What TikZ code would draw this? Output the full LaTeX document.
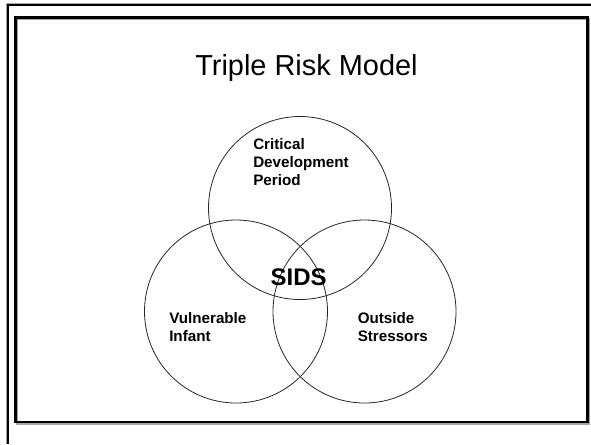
\documentclass[tikz,border=0pt]{standalone}
\usepackage{fontspec}
\newfontfamily\slidefont{Liberation Sans}
\begin{document}
\begin{tikzpicture}[
  x=0.75pt, y=-0.75pt,
  ring/.style={circle, draw=black!85, line width=0.6pt, minimum size=137.25pt, inner sep=0pt},
  lbl/.style={anchor=base west, align=left, inner sep=0pt,
    font=\slidefont\bfseries\fontsize{11.4}{13.6}\selectfont},
  frameline/.style={line width=1.2pt},
  shade/.style={black!35, line width=1pt}
]
\useasboundingbox (0,0) rectangle (591,444);

% --- slide frames ------------------------------------------------------------
\draw[shade] (6.2,444) -- (6.2,3.2) -- (591,3.2);
\draw[frameline] (8,444) -- (8,4.8) -- (591,4.8);
\draw[shade, line width=1.6pt] (17,19) rectangle (589.2,423.6);
\draw[line width=2pt] (15.8,17.5) rectangle (587.4,422);

% --- title -------------------------------------------------------------------
\node[anchor=base, inner sep=0pt, font=\slidefont\fontsize{21.7}{26}\selectfont]
  (title) at (306.5,75) {Triple Risk Model};

% --- the three risks -----------------------------------------------------------
\node[ring] (period) at (300,208) {};
\node[ring] (infant) at (236,311.5) {};
\node[ring] (stress) at (364.5,311.5) {};

% (base = last line)
\node[lbl] (periodtxt) at (253,185.7) {Critical\\Development\\Period};
\node[lbl] (infanttxt) at (169,341.5) {Vulnerable\\Infant};
\node[lbl] (stresstxt) at (357.5,341.5) {Outside\\Stressors};

% --- overlap -------------------------------------------------------------------
\node[anchor=base, inner sep=0pt, font=\slidefont\bfseries\fontsize{18}{21}\selectfont]
  (sids) at (298.7,285) {SIDS};

\end{tikzpicture}
\end{document}
